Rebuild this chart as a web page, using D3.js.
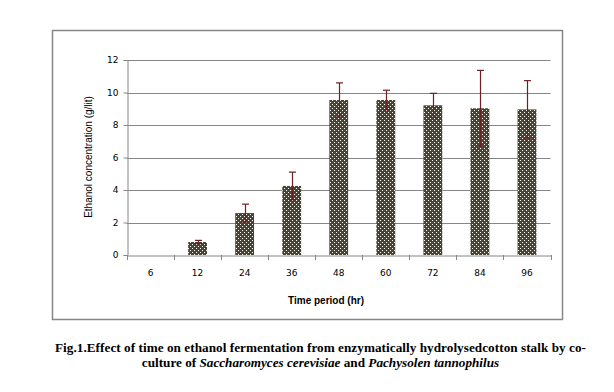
<!DOCTYPE html>
<html><head><meta charset="utf-8">
<script src="https://cdn.jsdelivr.net/npm/d3@7"></script>
<style>body{margin:0;background:#fff}svg{display:block}</style>
</head><body>
<svg id="c" width="614" height="392"></svg>
<script>
const categories = ["6","12","24","36","48","60","72","84","96"];
const values = [0, 0.8, 2.58, 4.25, 9.54, 9.54, 9.21, 9.03, 8.96];
const errors = [0, 0.1, 0.55, 0.85, 1.05, 0.6, 0.74, 2.33, 1.77];
const yTicks = [0,2,4,6,8,10,12];
const yTitle = "Ethanol concentration (g/lit)";
const xTitle = "Time period (hr)";

const svg = d3.select("#c");
const defs = svg.append("defs");
const pat = defs.append("pattern").attr("id","dots").attr("patternUnits","userSpaceOnUse")
  .attr("width",4).attr("height",4);
pat.append("rect").attr("width",4).attr("height",4).attr("fill","#4b4530");
pat.append("rect").attr("x",0).attr("y",0).attr("width",1).attr("height",1).attr("fill","#fff");
pat.append("rect").attr("x",2).attr("y",2).attr("width",1).attr("height",1).attr("fill","#fff");

// outer border
svg.append("rect").attr("x",52.5).attr("y",30.5).attr("width",510).attr("height",289)
  .attr("fill","none").attr("stroke","#868686").attr("stroke-width",1.5);

const x = d3.scaleBand().domain(categories).range([127,550.5]);
const y = d3.scaleLinear().domain([0,12]).range([255,60]);

// gridlines
svg.append("g").selectAll("line").data(yTicks.filter(d=>d>0)).join("line")
  .attr("x1",127).attr("x2",550.5)
  .attr("y1",d=>Math.round(y(d))+0.5).attr("y2",d=>Math.round(y(d))+0.5)
  .attr("stroke","#868686").attr("stroke-width",1);

// y axis
const ya = svg.append("g").attr("transform","translate(127.5,0)")
  .call(d3.axisLeft(y).tickValues(yTicks).tickSize(4).tickPadding(5).tickFormat(d3.format("d")));
ya.select(".domain").attr("stroke","#868686");
ya.selectAll(".tick line").attr("stroke","#868686");
ya.selectAll("text").attr("font-family","'DejaVu Sans', sans-serif").attr("font-size",9).attr("fill","#000");

// bars
svg.append("g").selectAll("rect").data(values).join("rect")
  .attr("x",(d,i)=>x(categories[i]) + x.bandwidth()*0.3)
  .attr("width",x.bandwidth()*0.4)
  .attr("y",d=>y(d)).attr("height",d=>y(0)-y(d))
  .attr("fill","url(#dots)");

// x axis
const xa = svg.append("g").attr("transform","translate(0,255.5)")
  .call(d3.axisBottom(x).tickSize(0).tickPadding(14));
xa.select(".domain").attr("stroke","#868686");
xa.selectAll("text").attr("font-family","'DejaVu Sans', sans-serif").attr("font-size",9).attr("fill","#000");
// category boundary ticks
const bounds = categories.map(c=>x(c)).concat([x.range()[1]]);
svg.append("g").selectAll("line").data(bounds).join("line")
  .attr("x1",d=>Math.round(d)+0.5).attr("x2",d=>Math.round(d)+0.5)
  .attr("y1",255).attr("y2",260).attr("stroke","#868686");

// error bars
const eb = svg.append("g").attr("stroke","#6e1f22").attr("stroke-width",1.2);
values.forEach((v,i)=>{
  if(errors[i]<=0) return;
  const cx = Math.round(x(categories[i]) + x.bandwidth()/2)+0.5;
  const y1 = y(v+errors[i]), y2 = y(v-errors[i]);
  eb.append("line").attr("x1",cx).attr("x2",cx).attr("y1",y1).attr("y2",y2);
  eb.append("line").attr("x1",cx-3.5).attr("x2",cx+3.5).attr("y1",y1).attr("y2",y1);
  eb.append("line").attr("x1",cx-3.5).attr("x2",cx+3.5).attr("y1",y2).attr("y2",y2);
});

// titles
svg.append("text").attr("transform","translate(92,157) rotate(-90)")
  .attr("text-anchor","middle").attr("font-family","'Liberation Sans', sans-serif")
  .attr("font-size",10).text(yTitle);
svg.append("text").attr("x",326).attr("y",304).attr("text-anchor","middle")
  .attr("font-family","'Liberation Sans', sans-serif").attr("font-weight","bold")
  .attr("font-size",10).text(xTitle);

// caption
svg.append("text").attr("x",55).attr("y",352)
  .attr("font-family","'Liberation Serif', serif").attr("font-weight","bold").attr("font-size",13.2)
  .attr("textLength",531).attr("lengthAdjust","spacing")
  .text("Fig.1.Effect of time on ethanol fermentation from enzymatically hydrolysedcotton stalk by co-");
const cap2 = svg.append("text").attr("x",320.5).attr("y",367).attr("text-anchor","middle")
  .attr("font-family","'Liberation Serif', serif").attr("font-weight","bold").attr("font-size",13.2);
cap2.append("tspan").text("culture of ");
cap2.append("tspan").attr("font-style","italic").text("Saccharomyces cerevisiae");
cap2.append("tspan").text(" and ");
cap2.append("tspan").attr("font-style","italic").text("Pachysolen tannophilus");
</script>
</body></html>
